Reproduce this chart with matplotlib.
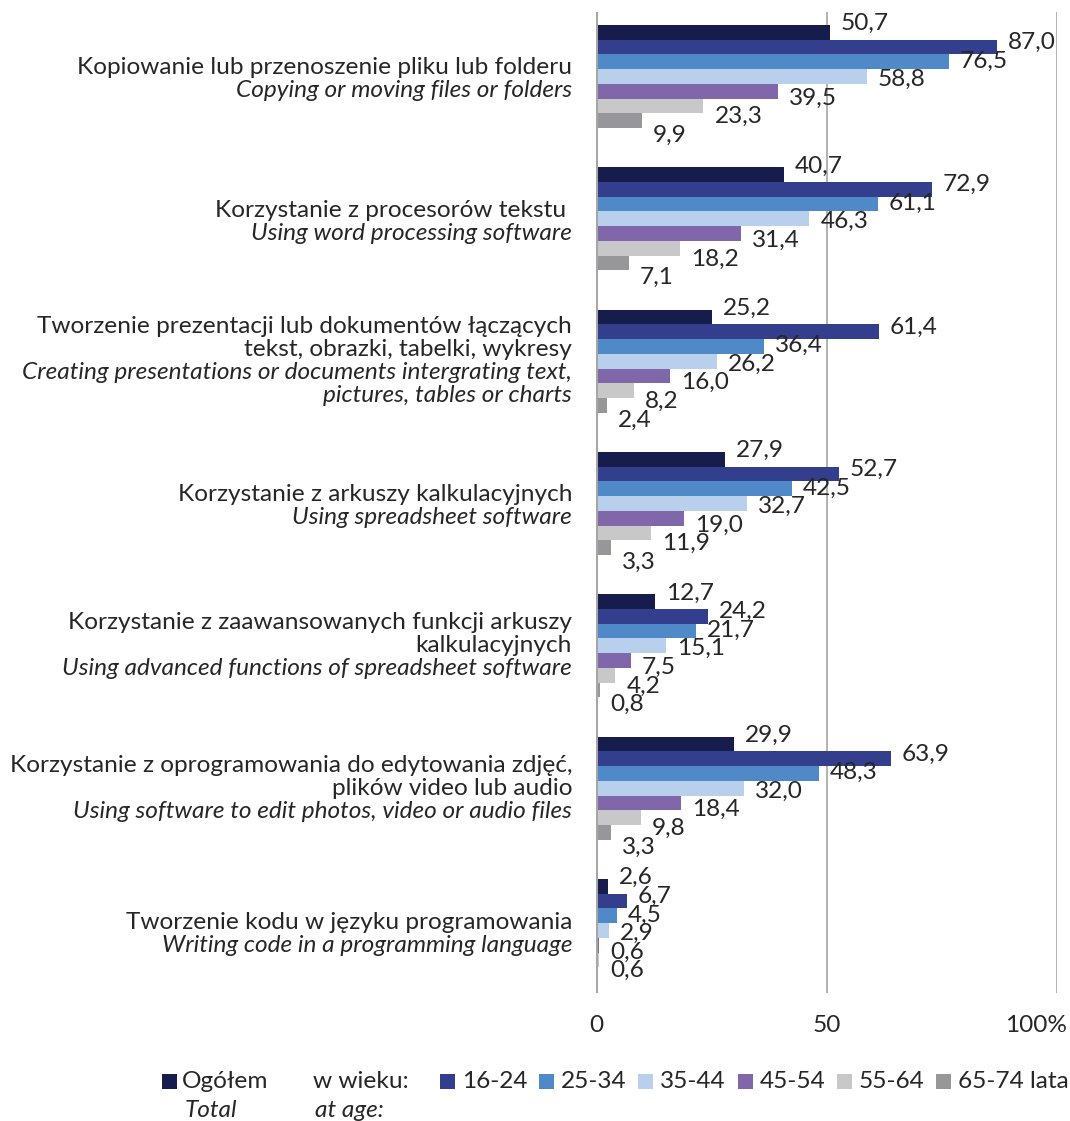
import matplotlib
matplotlib.use("Agg")
import matplotlib.pyplot as plt
import matplotlib.transforms as mtrans
from matplotlib.patches import Rectangle
import numpy as np

plt.rcParams['font.family'] = ['Lato', 'DejaVu Sans']

# ---------------- data ----------------
categories_pl = [
    ["Kopiowanie lub przenoszenie pliku lub folderu"],
    ["Korzystanie z procesorów tekstu "],
    ["Tworzenie prezentacji lub dokumentów łączących", "tekst, obrazki, tabelki, wykresy"],
    ["Korzystanie z arkuszy kalkulacyjnych"],
    ["Korzystanie z zaawansowanych funkcji arkuszy", "kalkulacyjnych"],
    ["Korzystanie z oprogramowania do edytowania zdjęć,", "plików video lub audio"],
    ["Tworzenie kodu w języku programowania"],
]
categories_en = [
    ["Copying or moving files or folders"],
    ["Using word processing software"],
    ["Creating presentations or documents intergrating text,", "pictures, tables or charts"],
    ["Using spreadsheet software"],
    ["Using advanced functions of spreadsheet software"],
    ["Using software to edit photos, video or audio files"],
    ["Writing code in a programming language"],
]

series_names = ["Ogółem", "16-24", "25-34", "35-44", "45-54", "55-64", "65-74 lata"]
ogolem    = [50.7, 40.7, 25.2, 27.9, 12.7, 29.9, 2.6]
age_16_24 = [87.0, 72.9, 61.4, 52.7, 24.2, 63.9, 6.7]
age_25_34 = [76.5, 61.1, 36.4, 42.5, 21.7, 48.3, 4.5]
age_35_44 = [58.8, 46.3, 26.2, 32.7, 15.1, 32.0, 2.9]
age_45_54 = [39.5, 31.4, 16.0, 19.0, 7.5, 18.4, 0.6]
age_55_64 = [23.3, 18.2, 8.2, 11.9, 4.2, 9.8, 0.6]
age_65_74 = [9.9, 7.1, 2.4, 3.3, 0.8, 3.3, np.nan]
series_values = [ogolem, age_16_24, age_25_34, age_35_44, age_45_54, age_55_64, age_65_74]

colors = ["#161c4c", "#333e8c", "#5089c8", "#b9d0ec", "#7f67aa", "#c8c8c8", "#97979b"]

xticks = [0, 50, 100]
xticklabels = ["0", "50", "100%"]

# ---------------- figure ----------------
W, H = 1070, 1121
fig = plt.figure(figsize=(W / 100, H / 100), dpi=100)
ax = fig.add_axes([596 / W, 1 - 993 / H, (1057 - 596) / W, (993 - 12) / H])

FS = 17.6
FS_LEG = 17.6
TEXT = "#262626"
GRID = "#a6a6a6"

n_cat = len(categories_pl)
n_ser = len(series_names)
bh = 0.1033
y = np.arange(n_cat)

for i, (vals, col) in enumerate(zip(series_values, colors)):
    pos = y + (i - (n_ser - 1) / 2) * bh
    v = np.array(vals, dtype=float)
    ax.barh(pos, np.nan_to_num(v), height=bh, color=col, linewidth=0, zorder=3)
    for p, val in zip(pos, v):
        if np.isnan(val):
            continue
        dy = -(3 + (i - (n_ser - 1) / 2) * 3.9)
        ax.annotate(f"{val:.1f}".replace(".", ","), xy=(val, p), xytext=(11, dy),
                    textcoords="offset pixels", ha="left", va="center",
                    fontsize=FS, color=TEXT, zorder=5, annotation_clip=False)

ax.set_xlim(0, 100)
ax.set_ylim(n_cat - 1 + 0.439, -0.453)

for xv in xticks[1:]:
    ax.axvline(xv, color=GRID, lw=1.2, zorder=1)
ax.axvline(0, color=GRID, lw=2.2, zorder=4)

for s in ax.spines.values():
    s.set_visible(False)
ax.set_yticks([])
ax.set_xticks(xticks)
ax.set_xticklabels(xticklabels, fontsize=FS, color=TEXT)
ax.tick_params(axis="x", length=0, pad=16)
lbls = ax.get_xticklabels()
lbls[-1].set_horizontalalignment("right")
lbls[-1].set_transform(lbls[-1].get_transform() + mtrans.ScaledTranslation(10 / 100, 0, fig.dpi_scale_trans))

# category labels
pitch = 23
for k in range(n_cat):
    lines = [(t, "normal") for t in categories_pl[k]] + [(t, "italic") for t in categories_en[k]]
    n = len(lines)
    off = 3 if n <= 2 else 0
    for j, (t, st) in enumerate(lines):
        dy = -((j - (n - 1) / 2) * pitch + off)
        ax.annotate(t, xy=(0, k), xycoords=("axes fraction", "data"),
                    xytext=(-24, dy), textcoords="offset pixels",
                    ha="right", va="center", fontsize=FS, style=st, color=TEXT,
                    annotation_clip=False)

# legend (manual)
def fx(px):
    return px / W

def fy(py):
    return 1 - py / H

sq = 15
row1 = 1088
row2 = 1117
fig.patches.append(Rectangle((fx(162), fy(1089)), sq / W, sq / H, transform=fig.transFigure,
                             color=colors[0], linewidth=0))
fig.text(fx(182), fy(row1), series_names[0], fontsize=FS_LEG, color=TEXT, va="baseline")
fig.text(fx(185), fy(row2), "Total", fontsize=FS_LEG, color=TEXT, va="baseline", style="italic")
fig.text(fx(313), fy(row1), "w wieku:", fontsize=FS_LEG, color=TEXT, va="baseline")
fig.text(fx(315), fy(row2), "at age:", fontsize=FS_LEG, color=TEXT, va="baseline", style="italic")
for i in range(1, n_ser):
    x0 = 440 + (i - 1) * 99.2
    fig.patches.append(Rectangle((fx(x0), fy(1089)), sq / W, sq / H, transform=fig.transFigure,
                                 color=colors[i], linewidth=0))
    fig.text(fx(x0 + 22), fy(row1), series_names[i], fontsize=FS_LEG, color=TEXT, va="baseline")

fig.savefig("out.png", dpi=100, facecolor="white")
